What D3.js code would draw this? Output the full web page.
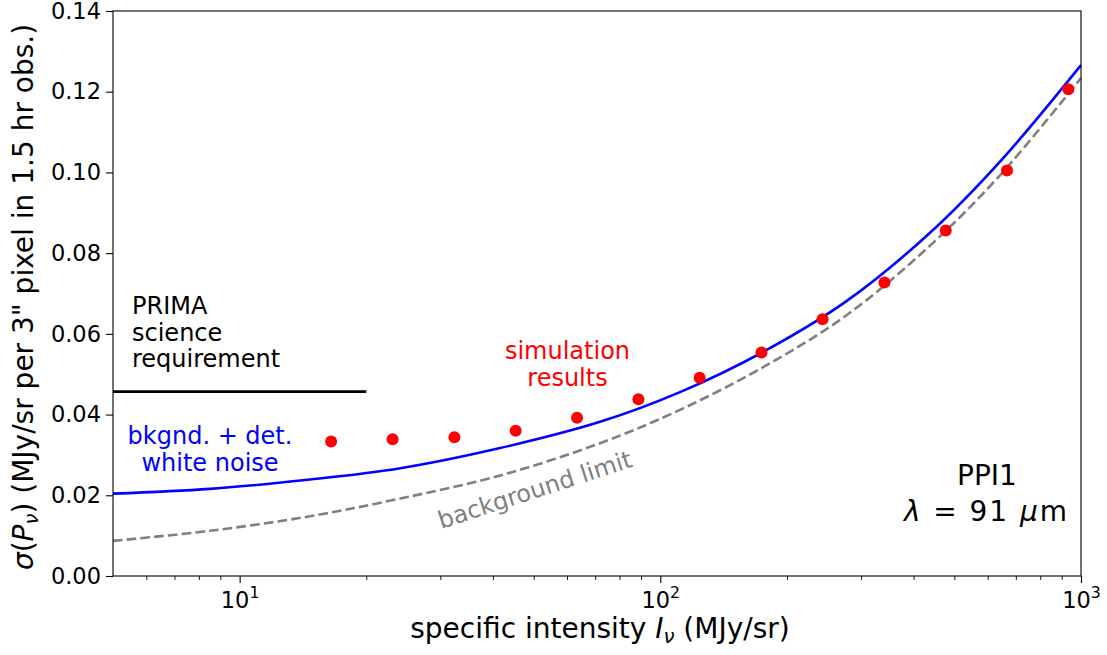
<!DOCTYPE html>
<html>
<head>
<meta charset="utf-8">
<script src="https://cdn.jsdelivr.net/npm/d3@7"></script>
<style>
  html, body { margin: 0; padding: 0; background: #fff; }
  svg { display: block; font-family: "DejaVu Sans", sans-serif; }
</style>
</head>
<body>
<svg id="chart" width="1107" height="655"></svg>
<script>
// ---- data ----
const simX = [16.5, 23.1, 32.4, 45.3, 63.4, 88.7, 124, 174, 243, 341, 477, 667, 933];
const simY = [0.0333, 0.0339, 0.0344, 0.0360, 0.0392, 0.0438, 0.0491, 0.0554, 0.0636, 0.0727, 0.0856, 0.1005, 0.1206];

const curveX = [5, 8.5, 14.7, 24.1, 41.6, 71.9, 111, 176, 277, 437, 642, 1000];
const totalY = [0.0204, 0.0216, 0.0239, 0.0267, 0.0317, 0.0382, 0.0455, 0.0556, 0.0681, 0.0850, 0.1027, 0.1266];
const bkgY   = [0.0087, 0.0112, 0.0148, 0.0192, 0.0249, 0.0329, 0.0411, 0.0518, 0.0646, 0.0818, 0.0993, 0.1234];

const reqX = [5, 20];
const reqY = [0.0457, 0.0457];

const xMajorTicks = [10, 100, 1000];
const xMajorExp = ["1", "2", "3"];
const xMinorTicks = [6, 7, 8, 9, 20, 30, 40, 50, 60, 70, 80, 90, 200, 300, 400, 500, 600, 700, 800, 900];
const yTicks = [0, 0.02, 0.04, 0.06, 0.08, 0.10, 0.12, 0.14];

// ---- layout ----
const L = 113, R = 1081, T = 11, B = 576;
const svg = d3.select("#chart");
const x = d3.scaleLog().domain([5, 1000]).range([L, R]);
const y = d3.scaleLinear().domain([0, 0.14]).range([B, T]);

const plot = svg.append("g");

// lines
const line = d3.line().x(d => x(d[0])).y(d => y(d[1])).curve(d3.curveCatmullRom.alpha(0.5));

plot.append("path")
  .attr("d", line(curveX.map((v, i) => [v, bkgY[i]])))
  .attr("fill", "none").attr("stroke", "#808080")
  .attr("stroke-width", 2.6).attr("stroke-dasharray", "9.6,4.2");

plot.append("path")
  .attr("d", line(curveX.map((v, i) => [v, totalY[i]])))
  .attr("fill", "none").attr("stroke", "#0000ff").attr("stroke-width", 2.6);

plot.append("path")
  .attr("d", d3.line().x(d => x(d[0])).y(d => y(d[1]))(reqX.map((v, i) => [v, reqY[i]])))
  .attr("fill", "none").attr("stroke", "#000").attr("stroke-width", 2.7);

plot.selectAll("circle.sim").data(simX.map((v, i) => [v, simY[i]])).enter()
  .append("circle").attr("class", "sim")
  .attr("cx", d => x(d[0])).attr("cy", d => y(d[1])).attr("r", 6)
  .attr("fill", "#ff0000");

// axes
const gx = svg.append("g").attr("transform", `translate(0,${B})`);
gx.call(d3.axisBottom(x).tickValues(xMinorTicks).tickSize(4).tickFormat(""));
gx.call(g => g.select(".domain").remove());
const gxM = svg.append("g").attr("transform", `translate(0,${B})`);
gxM.call(d3.axisBottom(x).tickValues(xMajorTicks).tickSize(7).tickPadding(4).tickFormat(""));
gxM.call(g => g.select(".domain").remove());
gxM.selectAll(".tick").each(function(d, i) {
  const t = d3.select(this).append("text")
    .attr("y", 32).attr("fill", "#000")
    .attr("text-anchor", "middle")
    .style("font-size", "22.5px").style("font-family", "DejaVu Sans");
  t.append("tspan").text("10");
  t.append("tspan").attr("dy", -10).style("font-size", "15.75px").text(xMajorExp[i]);
});
svg.selectAll(".tick line").attr("stroke", "#000").attr("stroke-width", 1.1);
gx.selectAll(".tick line").attr("stroke-width", 0.9);

const gy = svg.append("g").attr("transform", `translate(${L},0)`);
gy.call(d3.axisLeft(y).tickValues(yTicks).tickSize(7).tickPadding(5).tickFormat(d3.format(".2f")));
gy.select(".domain").remove();
gy.selectAll(".tick line").attr("stroke", "#000").attr("stroke-width", 1.1);
gy.selectAll(".tick text").attr("fill", "#000")
  .style("font-size", "22.5px").style("font-family", "DejaVu Sans");

// frame
svg.append("rect").attr("x", L).attr("y", T).attr("width", R - L).attr("height", B - T)
  .attr("fill", "none").attr("stroke", "#000").attr("stroke-width", 1.1);

// axis labels
const xl = svg.append("text").attr("x", 600).attr("y", 638).attr("text-anchor", "middle")
  .style("font-size", "28px").attr("fill", "#000");
xl.append("tspan").text("specific intensity ");
xl.append("tspan").style("font-style", "italic").text("I");
xl.append("tspan").attr("dy", 5).style("font-style", "italic").style("font-size", "19.6px").text("ν");
xl.append("tspan").attr("dy", -5).text(" (MJy/sr)");

const yl = svg.append("text").attr("transform", "translate(33,297) rotate(-90)")
  .attr("text-anchor", "middle").style("font-size", "28px").attr("fill", "#000");
yl.append("tspan").style("font-style", "italic").text("σ");
yl.append("tspan").text("(");
yl.append("tspan").style("font-style", "italic").text("P");
yl.append("tspan").attr("dy", 5).style("font-style", "italic").style("font-size", "19.6px").text("ν");
yl.append("tspan").attr("dy", -5).text(") (MJy/sr per 3\" pixel in 1.5 hr obs.)");

// annotations
const ann = svg.append("g").style("font-size", "24px");
const prima = ann.append("text").attr("fill", "#000");
[["PRIMA", 314], ["science", 341], ["requirement", 367]].forEach(([s, by]) =>
  prima.append("tspan").attr("x", 132).attr("y", by).text(s));

const bk = ann.append("text").attr("fill", "#0000ff").attr("text-anchor", "middle");
[["bkgnd. + det.", 444], ["white noise", 471]].forEach(([s, by]) =>
  bk.append("tspan").attr("x", 210).attr("y", by).text(s));

const sim = ann.append("text").attr("fill", "#ff0000").attr("text-anchor", "middle");
[["simulation", 359], ["results", 386]].forEach(([s, by]) =>
  sim.append("tspan").attr("x", 567.5).attr("y", by).text(s));

ann.append("text").attr("fill", "#808080").attr("text-anchor", "middle")
  .attr("dominant-baseline", "central")
  .attr("transform", "translate(535,490) rotate(-18)")
  .text("background limit");

svg.append("text").attr("fill", "#000").attr("text-anchor", "middle")
  .style("font-size", "28px").attr("x", 987).attr("y", 485).text("PPI1");
const l2 = svg.append("text").attr("fill", "#000").attr("x", 904).attr("y", 521)
  .style("font-size", "28px").attr("textLength", 163).attr("lengthAdjust", "spacing");
l2.append("tspan").style("font-style", "italic").text("λ");
l2.append("tspan").text(" = 91 ");
l2.append("tspan").style("font-style", "italic").text("μ");
l2.append("tspan").text("m");
</script>
</body>
</html>
